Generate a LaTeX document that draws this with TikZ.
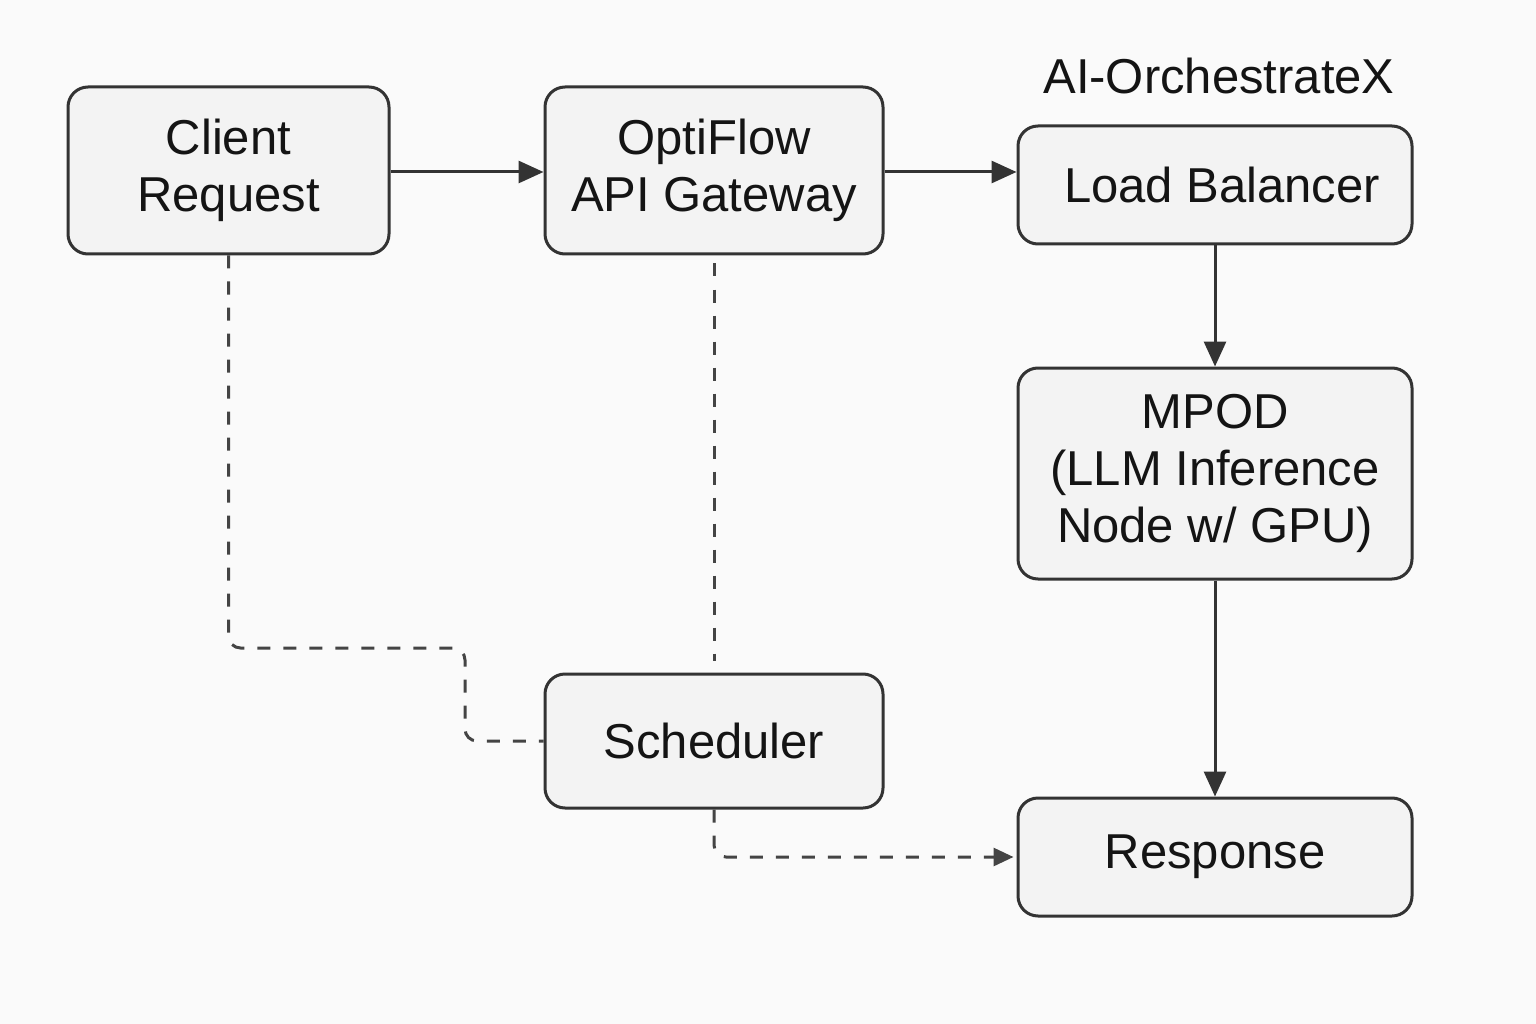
\documentclass[tikz,border=0pt]{standalone}
\usepackage{fontspec}
\setmainfont{Liberation Sans}
\usetikzlibrary{arrows.meta}
\definecolor{bg}{HTML}{FAFAFA}
\definecolor{boxfill}{HTML}{F3F3F3}
\definecolor{ink}{HTML}{333333}
\definecolor{dashink}{HTML}{444444}
\tikzset{
  box/.style={draw=ink, line width=3pt, fill=boxfill, rounded corners=20pt,
    align=center, inner sep=0pt, font=\fontsize{49}{57}\selectfont, text=black!92},
  flow/.style={draw=ink, line width=3pt, -{Triangle[length=25pt,width=22pt]}},
  dashline/.style={draw=dashink, line width=3pt, dash pattern=on 13pt off 13pt, rounded corners=12pt},
}
\begin{document}
\begin{tikzpicture}[x=1pt,y=-1pt]
\fill[bg] (0,0) rectangle (1536,1024);
\useasboundingbox (0,0) rectangle (1536,1024);

\node[box, minimum width=321pt, minimum height=167pt] (client) at (228.5,170.5) {Client\\Request};
\node[box, minimum width=338pt, minimum height=167pt] (gw) at (714,170.5) {OptiFlow\\API Gateway};
\node[box, minimum width=394pt, minimum height=118pt] (lb) at (1215,185) {\hspace*{14pt}Load Balancer};
\node[box, minimum width=394pt, minimum height=211pt] (mpod) at (1215,473.5) {MPOD\\(LLM Inference\\Node w/ GPU)};
\node[box, minimum width=338pt, minimum height=134pt] (sched) at (714,741) {Scheduler};
\node[box, minimum width=394pt, minimum height=118pt] (resp) at (1215,857) {Response};
\node[font=\fontsize{49}{57}\selectfont, text=black!92] (title) at (1219,76) {AI-OrchestrateX};

\coordinate (bendA) at (465,648);

\draw[flow] ([yshift=-1.5pt]client.east) -- ([yshift=-1.5pt]gw.west);
\draw[flow] ([yshift=-1.5pt]gw.east) -- ([yshift=-1.5pt]gw.east -| lb.west);
\draw[flow] (lb.south) -- (mpod.north);
\draw[flow] (mpod.south) -- (resp.north);

\draw[dashline] (client.south) |- (bendA) |- (sched.west);
\draw[dashline] ([yshift=-8pt]gw.south) -- ([yshift=12pt]sched.north);
\draw[dashline, -{Triangle[length=20pt,width=18pt]}, shorten >=3pt] (sched.south) |- (resp.west);
\end{tikzpicture}
\end{document}
